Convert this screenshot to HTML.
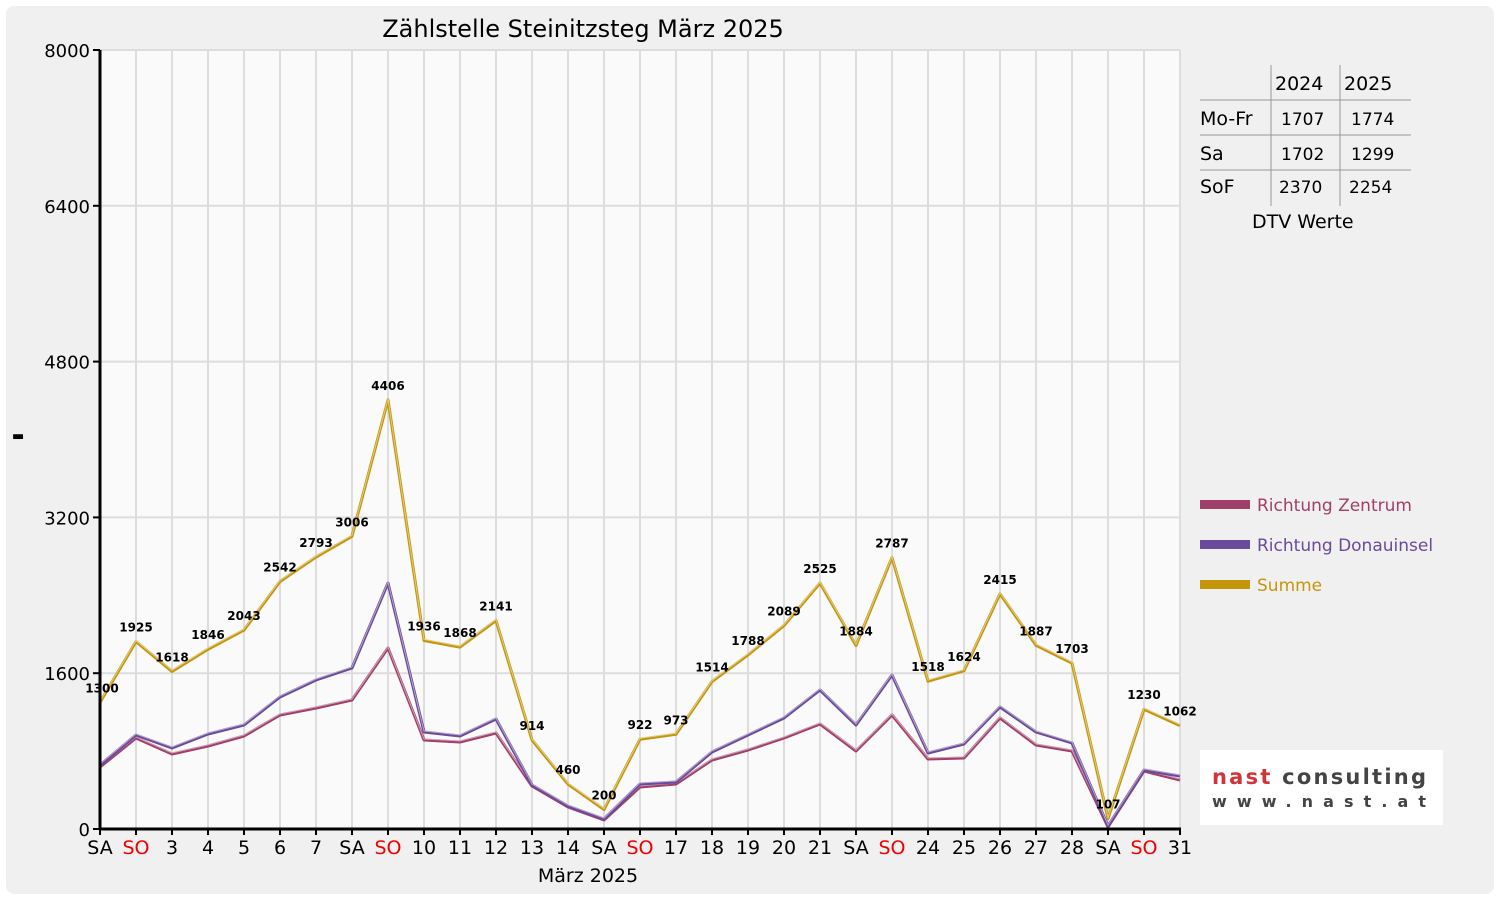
<!DOCTYPE html>
<html><head><meta charset="utf-8"><style>
body{margin:0;background:#fff;}
svg text{font-family:"DejaVu Sans","Liberation Sans",sans-serif;}
</style></head><body>
<svg id="s" width="1500" height="900" xmlns="http://www.w3.org/2000/svg">
<rect x="0" y="0" width="1500" height="900" fill="#fff"/>
<rect x="6" y="6" width="1488" height="888" rx="8" fill="#f0f0f0"/>
<rect x="100" y="50" width="1080" height="779" fill="#fafafa"/>
<g id="grid"></g>
<text x="583" y="37" font-size="24" text-anchor="middle" fill="#000">Zählstelle Steinitzsteg März 2025</text>
<g id="series"></g>
<g id="axes"></g>
<g font-size="19" fill="#000">
<line x1="1271" y1="65" x2="1271" y2="206" stroke="#999"/>
<line x1="1340" y1="65" x2="1340" y2="206" stroke="#999"/>
<line x1="1200" y1="100" x2="1411" y2="100" stroke="#999"/>
<line x1="1200" y1="135" x2="1411" y2="135" stroke="#999"/>
<line x1="1200" y1="170" x2="1411" y2="170" stroke="#999"/>
<text x="1275" y="90">2024</text><text x="1344" y="90">2025</text>
<text x="1200" y="125">Mo-Fr</text><text x="1281" y="125" font-size="17">1707</text><text x="1351" y="125" font-size="17">1774</text>
<text x="1200" y="160">Sa</text><text x="1281" y="160" font-size="17">1702</text><text x="1351" y="160" font-size="17">1299</text>
<text x="1200" y="193">SoF</text><text x="1279" y="193" font-size="17">2370</text><text x="1349" y="193" font-size="17">2254</text>
<text x="1252" y="228">DTV Werte</text>
</g>
<rect x="1200" y="500" width="50" height="9" fill="#a0406a"/>
<text x="1257" y="511" font-size="17" fill="#a0406a">Richtung Zentrum</text>
<rect x="1200" y="540" width="50" height="9" fill="#6a4a9a"/>
<text x="1257" y="551" font-size="17" fill="#6a4a9a">Richtung Donauinsel</text>
<rect x="1200" y="580" width="50" height="9" fill="#c4960c"/>
<text x="1257" y="591" font-size="17" fill="#c4960c">Summe</text>
<rect x="1200" y="750" width="243" height="75" fill="#fff"/>
<text x="1212" y="784" font-size="21" font-weight="bold" fill="#d0343a" font-family="Liberation Sans,sans-serif" textLength="214">nast <tspan fill="#444">consulting</tspan></text>
<text x="1212" y="807" font-size="16" font-weight="bold" fill="#444" font-family="Liberation Sans,sans-serif" textLength="214">www.nast.at</text>
<text x="588" y="882" font-size="19" text-anchor="middle">März 2025</text>
<text x="12" y="440" font-size="13" font-weight="bold">▬</text>
</svg>
<script>
const NS="http://www.w3.org/2000/svg";
function el(p,t,a,txt){const e=document.createElementNS(NS,t);for(const k in a)e.setAttribute(k,a[k]);if(txt!==undefined)e.textContent=txt;p.appendChild(e);return e;}
const X=i=>100+36*i, Y=v=>829-v*779/8000;
const grid=document.getElementById('grid'),axes=document.getElementById('axes'),ser=document.getElementById('series');
for(let i=1;i<31;i++)el(grid,'line',{x1:X(i),x2:X(i),y1:50,y2:829,stroke:'#ddd','stroke-width':2});
for(let v=1600;v<=8000;v+=1600)el(grid,'line',{x1:100,x2:1180,y1:Y(v),y2:Y(v),stroke:'#ddd','stroke-width':2});
el(axes,'line',{x1:100,x2:100,y1:50,y2:830,stroke:'#000','stroke-width':3});
el(axes,'line',{x1:99,x2:1181,y1:829,y2:829,stroke:'#000','stroke-width':3});
for(let v=0;v<=8000;v+=1600){el(axes,'line',{x1:93,x2:100,y1:Y(v),y2:Y(v),stroke:'#000','stroke-width':2});el(axes,'text',{x:90,y:Y(v)+7,'font-size':18,'text-anchor':'end'},v);}
const lab=['SA','SO','3','4','5','6','7','SA','SO','10','11','12','13','14','SA','SO','17','18','19','20','21','SA','SO','24','25','26','27','28','SA','SO','31'];
lab.forEach((l,i)=>{el(axes,'line',{x1:X(i),x2:X(i),y1:829,y2:835,stroke:'#000','stroke-width':2});el(axes,'text',{x:X(i),y:854,'font-size':19,'text-anchor':'middle',fill:l=='SO'?'#e00':'#000'},l);});
const sum=[1300,1925,1618,1846,2043,2542,2793,3006,4406,1936,1868,2141,914,460,200,922,973,1514,1788,2089,2525,1884,2787,1518,1624,2415,1887,1703,107,1230,1062];
const zy=[767,738,754,746,736,715,708,700,648,740,742,733,786,807,820,787,784,760,750,738,724,751,715,759,758,718,745,751,827,771,780];
const dy=[765,735,748,734,725,697,680,668,583,732,736,719,785,806,819,784,782,752,735,718,690,725,675,753,744,707,732,743,826,770,776];
function line(pts,c){el(ser,'polyline',{points:pts.map((y,i)=>X(i)+','+y).join(' '),fill:'none',stroke:c,'stroke-width':3,'stroke-linejoin':'round'});el(ser,'polyline',{points:pts.map((y,i)=>X(i)+','+(y-1)).join(' '),fill:'none',stroke:'rgba(255,255,255,0.5)','stroke-width':1});}
line(zy,'#a0406a');line(dy,'#6a4a9a');line(sum.map(Y),'#c4960c');
sum.forEach((v,i)=>el(ser,'text',{x:X(i)+(i==0?2:0),y:Y(v)-10,'font-size':12,'font-weight':'bold','text-anchor':'middle',fill:'#000','font-family':'DejaVu Serif,serif'},v));
</script>
</body></html>
